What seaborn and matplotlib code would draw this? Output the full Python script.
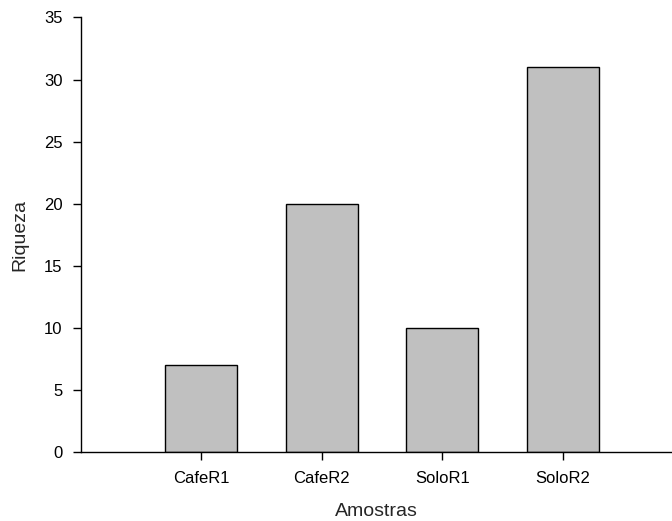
import matplotlib
matplotlib.use("Agg")
import matplotlib.pyplot as plt
import seaborn as sns
import pandas as pd

categories = ["CafeR1", "CafeR2", "SoloR1", "SoloR2"]
riqueza = [7, 20, 10, 31]
y_ticks = [0, 5, 10, 15, 20, 25, 30, 35]

sns.set_style("ticks")
plt.rcParams['font.family'] = ['Liberation Sans', 'DejaVu Sans']

df = pd.DataFrame({"Amostras": categories, "Riqueza": riqueza})

fig = plt.figure(figsize=(6.72, 5.21), dpi=100)
ax = fig.add_axes([80.5 / 672, 69 / 521, 1 - 80.5 / 672, (452 - 17.5) / 521])

sns.barplot(data=df, x="Amostras", y="Riqueza", ax=ax, color="#C0C0C0",
            saturation=1, width=0.6, edgecolor="black", linewidth=1)

ax.set_xlim(-1, 3.905)
ax.set_ylim(0, 35)
ax.set_yticks(y_ticks)
ax.set_yticklabels([str(t) for t in y_ticks])
sns.despine(ax=ax, top=True, right=True)
for s in ["left", "bottom"]:
    ax.spines[s].set_linewidth(1.0)
    ax.spines[s].set_color("black")
ax.tick_params(axis="both", direction="out", length=6, width=1, colors="black",
               labelsize=12)
ax.tick_params(axis="x", pad=8)
ax.tick_params(axis="y", pad=7)
ax.set_xlabel("Amostras", fontsize=14, labelpad=12)
ax.set_ylabel("Riqueza", fontsize=14, labelpad=11)

fig.savefig("out.png", dpi=100)
